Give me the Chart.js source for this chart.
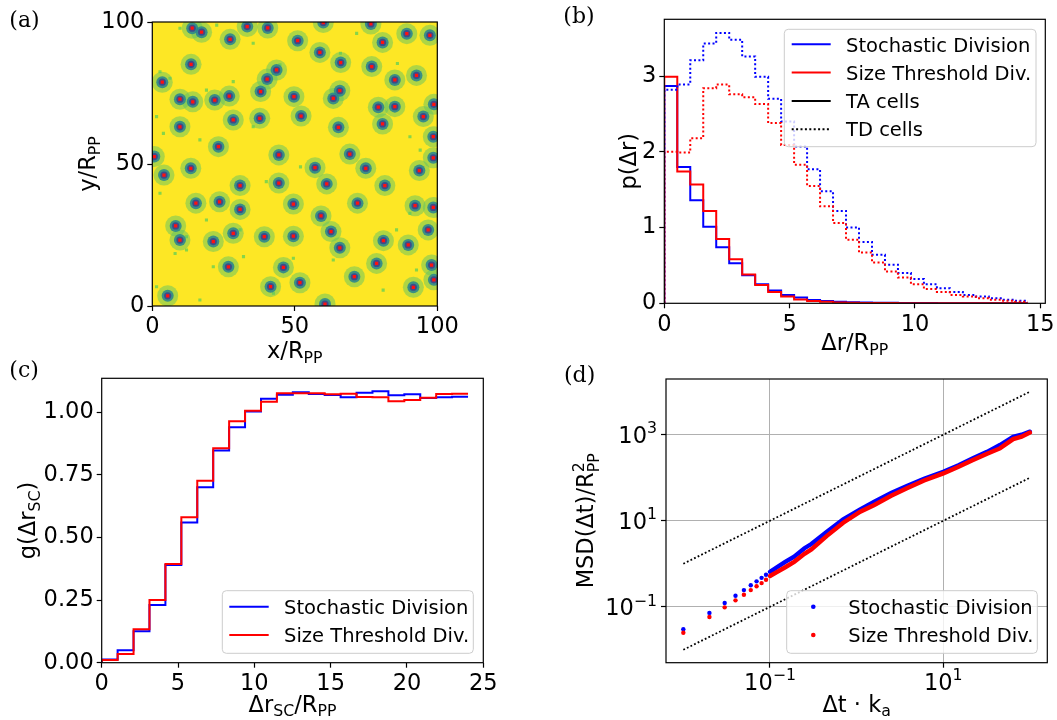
<!DOCTYPE html>
<html>
<head>
<meta charset="utf-8">
<title>cell displacement figure</title>
<script src="https://cdn.jsdelivr.net/npm/chart.js@4.4.1/dist/chart.umd.min.js"></script>
<style>
  html, body { margin: 0; padding: 0; background: #fff; }
  #fig { position: relative; width: 1057px; height: 720px; overflow: hidden; background: #fff; }
  #fig canvas { position: absolute; }
</style>
</head>
<body>
<div id="fig">
  <canvas id="chartA" width="528" height="372" style="left:0;top:0"></canvas>
  <canvas id="chartB" width="529" height="360" style="left:528px;top:0"></canvas>
  <canvas id="chartC" width="528" height="360" style="left:0;top:360px"></canvas>
  <canvas id="chartD" width="529" height="360" style="left:528px;top:360px"></canvas>
</div>
<script>
// ---------- data ----------
var seriesNames = ["Stochastic Division", "Size Threshold Div."];
var cellTypes = ["TA cells", "TD cells"];

// (a) snapshot: positions of the stem-cell clusters (red dots) and loose TD cells
var clusterCenters = [
  [14.0, 97.8], [17.3, 96.4], [27.3, 93.9], [33.3, 98.4], [40.5, 97.9], [51.0, 93.4], [58.8, 89.3],
  [60.0, 99.8], [76.7, 99.3], [89.3, 95.9], [97.4, 95.3], [80.8, 92.8], [66.1, 85.7], [77.0, 84.3],
  [85.1, 79.6], [92.7, 81.2], [13.6, 85.1], [3.5, 78.8], [9.7, 72.8], [14.2, 71.9], [21.9, 72.5],
  [27.0, 73.9], [38.0, 75.5], [40.3, 79.9], [43.6, 83.1], [49.7, 73.7], [52.2, 66.9], [63.5, 73.1],
  [65.8, 75.8], [79.3, 70.0], [85.1, 70.2], [95.1, 66.7], [98.8, 71.0], [9.7, 63.1], [28.4, 65.5],
  [37.7, 66.1], [23.2, 56.1], [44.4, 53.2], [57.1, 48.7], [65.3, 62.9], [80.8, 64.1], [69.3, 53.5],
  [74.9, 48.5], [98.6, 52.2], [98.6, 59.6], [93.7, 47.7], [0.7, 52.6], [4.1, 46.1], [13.5, 48.5],
  [30.8, 42.4], [44.4, 43.3], [61.2, 43.0], [81.6, 42.4], [15.3, 36.2], [23.6, 36.7], [30.8, 34.0],
  [49.5, 35.9], [59.2, 31.7], [72.0, 36.2], [92.2, 35.3], [98.6, 34.7], [8.2, 28.2], [28.4, 25.6],
  [39.3, 24.4], [49.5, 24.6], [62.7, 26.2], [96.8, 26.8], [9.7, 23.2], [21.4, 22.7], [65.8, 20.5],
  [81.1, 23.0], [89.8, 21.5], [26.7, 13.8], [46.0, 13.6], [78.7, 15.0], [98.0, 14.4], [41.5, 6.8],
  [51.8, 8.2], [70.9, 10.3], [91.6, 6.6], [98.8, 9.2], [5.4, 3.6], [60.6, 0.7]
];
var looseCells = [
  [9.7, 97.8], [22.6, 98.9], [35.4, 92.5], [71.7, 96], [66, 89], [86, 85.4], [2.7, 82.5], [6.2, 80.2],
  [19, 76], [28.4, 79], [44.8, 84.9], [1.5, 66.7], [3.9, 60.8], [35.4, 63.1], [16.7, 58.5], [90.4, 59.6],
  [94, 54.9], [52, 49], [56.6, 47.3], [40, 43.8], [2.7, 39.7], [19, 30.3], [30.8, 26.8], [12, 19.7],
  [8, 18.5], [32, 17.4], [21.4, 13.8], [63.5, 16.2], [85.7, 26.8], [90.4, 32.6], [92.7, 12.7],
  [49.5, 16.8], [16.7, 2.1], [42.5, 4.5], [12, 24.4], [81, 5.6], [1.5, 6.8]
];
var ticksA = [0, 50, 100];

// (b) displacement histograms, 28 bins on [0, 14.5]
var binRangeB = [0, 14.5];
var taStochastic = [2.87, 1.80, 1.36, 1.01, 0.74, 0.53, 0.37, 0.25, 0.17, 0.11, 0.075, 0.045, 0.03, 0.02,
  0.015, 0.01, 0.008, 0.006, 0.005, 0.004, 0.003, 0.002, 0.002, 0.001, 0.001, 0.001, 0.001, 0.001];
var taThreshold = [2.99, 1.74, 1.57, 1.22, 0.85, 0.58, 0.38, 0.24, 0.15, 0.09, 0.05, 0.03, 0.02, 0.012,
  0.008, 0.005, 0.004, 0.003, 0.002, 0.001, 0.001, 0.001, 0.001, 0.001, 0.001, 0.001, 0.001, 0.001];
var tdStochastic = [2.82, 2.89, 3.21, 3.43, 3.57, 3.48, 3.26, 2.99, 2.70, 2.40, 2.07, 1.77, 1.48, 1.22,
  1.00, 0.81, 0.64, 0.51, 0.40, 0.32, 0.25, 0.20, 0.15, 0.11, 0.09, 0.066, 0.048, 0.035];
var tdThreshold = [2.00, 1.99, 2.18, 2.84, 2.89, 2.76, 2.72, 2.63, 2.38, 2.09, 1.83, 1.55, 1.28, 1.06,
  0.84, 0.67, 0.54, 0.42, 0.34, 0.25, 0.19, 0.15, 0.11, 0.09, 0.066, 0.048, 0.035, 0.022];
var ticksBx = [0, 5, 10, 15];
var ticksBy = [0, 1, 2, 3];

// (c) pair correlation of stem cells, 23 bins on [0, 24]
var binRangeC = [0, 24];
var gStochastic = [0.013, 0.05, 0.126, 0.23, 0.39, 0.56, 0.70, 0.847, 0.94, 1.003, 1.053, 1.069, 1.079,
  1.072, 1.068, 1.059, 1.077, 1.083, 1.067, 1.071, 1.056, 1.059, 1.061];
var gThreshold = [0.011, 0.035, 0.133, 0.25, 0.394, 0.58, 0.726, 0.856, 0.964, 1.005, 1.041, 1.075, 1.075,
  1.075, 1.071, 1.073, 1.06, 1.059, 1.043, 1.048, 1.057, 1.072, 1.073];
var ticksCx = [0, 5, 10, 15, 20, 25];
var ticksCy = [0, 0.25, 0.5, 0.75, 1.0];

// (d) mean squared displacement
var lagSparse = [0.01, 0.02, 0.03, 0.04, 0.05, 0.06, 0.07, 0.08, 0.09];
var msdSparseStoch = [0.030, 0.072, 0.122, 0.18, 0.244, 0.316, 0.39, 0.47, 0.555];
var msdSparseThr = [0.025, 0.058, 0.097, 0.141, 0.19, 0.244, 0.30, 0.355, 0.425];
var lagDense = [0.1, 0.12, 0.15, 0.19, 0.25, 0.3, 0.45, 0.7, 1.1, 1.6, 2.5, 3.8, 6, 10, 15, 22, 32, 45, 64, 80, 100];
var msdDenseStoch = [0.65, 0.82, 1.1, 1.46, 2.3, 2.87, 5.5, 10.8, 18.4, 27.7, 44, 64, 95, 138, 195, 282, 400, 575, 895, 1000, 1175];
var msdDenseThr = [0.52, 0.64, 0.83, 1.11, 1.7, 2.16, 4.4, 9.0, 16.2, 23.2, 38, 56.6, 86, 126, 180, 257, 360, 480, 790, 900, 1120];
var guideX = [0.01, 100];
var guideUpperY = [1, 10000];
var guideLowerY = [0.01, 100];
var ticksDx = [0.1, 10];
var ticksDy = [0.1, 10, 1000];

// ---------- helpers ----------
var SANS = '"DejaVu Sans", sans-serif';
var F = 22.5;
var TICK_FONT = { family: "DejaVu Sans", size: F };

function font(size) { return size + "px " + SANS; }

function xy(xs, ys) {
  return xs.map(function (x, i) { return { x: x, y: ys[i] }; });
}
function pairs(list) {
  return list.map(function (p) { return { x: p[0], y: p[1] }; });
}
// outline of a step histogram (matplotlib histtype="step")
function stepOutline(range, heights) {
  var w = (range[1] - range[0]) / heights.length;
  var pts = [{ x: range[0], y: 0 }];
  heights.forEach(function (h, i) { pts.push({ x: range[0] + i * w, y: h }); });
  pts.push({ x: range[1], y: heights[heights.length - 1] });
  return pts;
}

function richWidth(ctx, parts) {
  var w = 0;
  parts.forEach(function (p) {
    if (p[1] === "ss") {
      ctx.font = font(F * 0.7);
      w += Math.max(ctx.measureText(p[0]).width, ctx.measureText(p[2]).width);
    } else {
      ctx.font = font(p[1] ? F * 0.7 : F);
      w += ctx.measureText(p[0]).width;
    }
  });
  return w;
}

function drawRich(ctx, parts, x, y, rotated, align) {
  ctx.save();
  ctx.translate(x, y);
  if (rotated) ctx.rotate(-Math.PI / 2);
  ctx.fillStyle = "#000";
  ctx.textAlign = "left";
  ctx.textBaseline = "alphabetic";
  var w = richWidth(ctx, parts);
  var cx = align === "right" ? -w : -w / 2;
  parts.forEach(function (p) {
    if (p[1] === "ss") {
      ctx.font = font(F * 0.7);
      ctx.fillText(p[0], cx, -F * 0.42);
      ctx.fillText(p[2], cx, F * 0.24);
      cx += Math.max(ctx.measureText(p[0]).width, ctx.measureText(p[2]).width);
      return;
    }
    ctx.font = font(p[1] ? F * 0.7 : F);
    var dy = p[1] === "sub" ? F * 0.2 : p[1] === "sup" ? -F * 0.42 : 0;
    ctx.fillText(p[0], cx, dy);
    cx += ctx.measureText(p[0]).width;
  });
  ctx.restore();
}

function drawLegend(ctx, lg) {
  ctx.save();
  ctx.beginPath();
  if (ctx.roundRect) ctx.roundRect(lg.x, lg.y, lg.w, lg.h, 4);
  else ctx.rect(lg.x, lg.y, lg.w, lg.h);
  ctx.fillStyle = "rgba(255,255,255,0.8)";
  ctx.fill();
  ctx.strokeStyle = "#cccccc";
  ctx.lineWidth = 1;
  ctx.stroke();
  ctx.font = "19.5px " + SANS;
  ctx.textBaseline = "alphabetic";
  lg.items.forEach(function (it, i) {
    var y = lg.rows[i];
    if (it.dot) {
      ctx.beginPath();
      ctx.arc(lg.markX, y, 2.3, 0, Math.PI * 2);
      ctx.fillStyle = it.color;
      ctx.fill();
    } else {
      ctx.beginPath();
      ctx.setLineDash(it.dash || []);
      ctx.moveTo(lg.lineX[0], y);
      ctx.lineTo(lg.lineX[1], y);
      ctx.strokeStyle = it.color;
      ctx.lineWidth = 2;
      ctx.stroke();
      ctx.setLineDash([]);
    }
    ctx.fillStyle = "#000";
    ctx.fillText(it.label, lg.textX, y + 7.2);
  });
  ctx.restore();
}

function panelPlugin(p) {
  return {
    id: "panel",
    beforeDraw: function (chart) {
      if (!p.background) return;
      var a = chart.chartArea, ctx = chart.ctx;
      ctx.save();
      ctx.fillStyle = p.background;
      ctx.fillRect(a.left, a.top, a.right - a.left, a.bottom - a.top);
      ctx.restore();
    },
    afterDraw: function (chart) {
      var ctx = chart.ctx, a = chart.chartArea;
      ctx.save();
      ctx.strokeStyle = "#000";
      ctx.lineWidth = 1.2;
      ctx.strokeRect(a.left, a.top, a.right - a.left, a.bottom - a.top);
      ctx.fillStyle = "#000";
      ctx.font = '22px "DejaVu Serif", serif';
      ctx.textAlign = "left";
      ctx.textBaseline = "alphabetic";
      ctx.fillText(p.label[0], p.label[1], p.label[2]);
      ctx.restore();
      drawRich(ctx, p.xTitle, (a.left + a.right) / 2, p.xTitleY, false);
      drawRich(ctx, p.yTitle, p.yTitleX, (a.top + a.bottom) / 2, true);
      if (p.logLabels) {
        p.logLabels.x.forEach(function (t) {
          drawRich(ctx, t[1], chart.scales.x.getPixelForValue(t[0]), a.bottom + 27, false);
        });
        p.logLabels.y.forEach(function (t) {
          drawRich(ctx, t[1], a.left - 9, chart.scales.y.getPixelForValue(t[0]) + 8.2, false, "right");
        });
      }
      if (p.legend) drawLegend(ctx, p.legend);
    }
  };
}

function fitX(h) {
  return function (s) { s.height = h; s.paddingLeft = s.paddingRight = s.paddingTop = s.paddingBottom = 0; };
}
function fitY(w) {
  return function (s) { s.width = w; s.paddingLeft = s.paddingRight = s.paddingTop = s.paddingBottom = 0; };
}
function useTicks(vals) {
  return function (s) { s.ticks = vals.map(function (v) { return { value: v }; }); };
}

function scale(type, min, max, vals, fit, fmt, grid) {
  return {
    type: type, min: min, max: max,
    afterBuildTicks: useTicks(vals),
    afterFit: fit,
    border: { display: false },
    grid: grid || { drawOnChartArea: false, drawTicks: true, tickLength: 5, tickWidth: 1.2, tickColor: "#000" },
    ticks: { color: "#000", font: TICK_FONT, padding: 3, maxRotation: 0, minRotation: 0, autoSkip: false, callback: fmt }
  };
}

function baseOptions(pad, xScale, yScale) {
  return {
    responsive: false, animation: false, devicePixelRatio: 1, events: [],
    layout: { padding: pad },
    plugins: { legend: { display: false }, tooltip: { enabled: false } },
    scales: { x: xScale, y: yScale }
  };
}

function intLabel(v) { return String(v); }
function blankLabel() { return ""; }

// ---------- (a) ----------
var clusterPts = pairs(clusterCenters);
new Chart(document.getElementById("chartA"), {
  type: "scatter",
  data: {
    datasets: [
      { data: clusterPts, pointRadius: 2.3, pointStyle: "rect", backgroundColor: "#ff1010", borderWidth: 0, order: 1, clip: 0 },
      { data: clusterPts, pointRadius: 3.6, backgroundColor: "#3e4a89", borderWidth: 0, order: 2, clip: 0 },
      { data: clusterPts, pointRadius: 6, backgroundColor: "rgba(38,131,143,0.85)", borderWidth: 0, order: 3, clip: 0 },
      { data: clusterPts, pointRadius: 10.5, backgroundColor: "rgba(95,195,100,0.5)", borderWidth: 0, order: 4, clip: 0 },
      { data: pairs(looseCells), pointRadius: 2.2, pointStyle: "rect", backgroundColor: "#86d549", borderWidth: 0, order: 5, clip: 0 }
    ]
  },
  options: baseOptions({ left: 0, top: 22, right: 90.7, bottom: 0 },
    scale("linear", 0, 100, ticksA, fitX(66), intLabel),
    scale("linear", 0, 100, ticksA, fitY(152.3), intLabel)),
  plugins: [panelPlugin({
    background: "#fde725",
    label: ["(a)", 9.3, 27.4],
    xTitle: [["x/R", ""], ["PP", "sub"]], xTitleY: 358,
    yTitle: [["y/R", ""], ["PP", "sub"]], yTitleX: 95
  })]
});

// ---------- (b) ----------
new Chart(document.getElementById("chartB"), {
  type: "scatter",
  data: {
    datasets: [
      { data: stepOutline(binRangeB, tdThreshold), showLine: true, stepped: "before", borderColor: "#ff0000", borderWidth: 2, borderDash: [2, 2.4], pointRadius: 0, order: 1 },
      { data: stepOutline(binRangeB, tdStochastic), showLine: true, stepped: "before", borderColor: "#0000ff", borderWidth: 2, borderDash: [2, 2.4], pointRadius: 0, order: 2 },
      { data: stepOutline(binRangeB, taThreshold), showLine: true, stepped: "before", borderColor: "#ff0000", borderWidth: 2, pointRadius: 0, order: 3 },
      { data: stepOutline(binRangeB, taStochastic), showLine: true, stepped: "before", borderColor: "#0000ff", borderWidth: 2, pointRadius: 0, order: 4 }
    ]
  },
  options: baseOptions({ left: 0, top: 19.3, right: 11.7, bottom: 0 },
    scale("linear", 0, 15.2, ticksBx, fitX(56.7), intLabel),
    scale("linear", 0, 3.75, ticksBy, fitY(136.3), intLabel)),
  plugins: [panelPlugin({
    label: ["(b)", 35.3, 22.7],
    xTitle: [["\u0394r/R", ""], ["PP", "sub"]], xTitleY: 350,
    yTitle: [["p(\u0394r)", ""]], yTitleX: 108,
    legend: {
      x: 256.3, y: 29.3, w: 251.7, h: 117.4,
      lineX: [263.7, 302.7], textX: 318, rows: [44.3, 72.6, 100.9, 129.2],
      items: [
        { label: seriesNames[0], color: "#0000ff" },
        { label: seriesNames[1], color: "#ff0000" },
        { label: cellTypes[0], color: "#000000" },
        { label: cellTypes[1], color: "#000000", dash: [2, 2.4] }
      ]
    }
  })]
});

// ---------- (c) ----------
new Chart(document.getElementById("chartC"), {
  type: "scatter",
  data: {
    datasets: [
      { data: stepOutline(binRangeC, gThreshold), showLine: true, stepped: "before", borderColor: "#ff0000", borderWidth: 2, pointRadius: 0, order: 1 },
      { data: stepOutline(binRangeC, gStochastic), showLine: true, stepped: "before", borderColor: "#0000ff", borderWidth: 2, pointRadius: 0, order: 2 }
    ]
  },
  options: baseOptions({ left: 0, top: 18.3, right: 44.7, bottom: 0 },
    scale("linear", 0, 25, ticksCx, fitX(57.3), intLabel),
    scale("linear", 0, 1.135, ticksCy, fitY(101.7), function (v) { return v.toFixed(2); })),
  plugins: [panelPlugin({
    label: ["(c)", 9.3, 17.2],
    xTitle: [["\u0394r", ""], ["SC", "sub"], ["/R", ""], ["PP", "sub"]], xTitleY: 351.5,
    yTitle: [["g(\u0394r", ""], ["SC", "sub"], [")", ""]], yTitleX: 35,
    legend: {
      x: 222.3, y: 230.7, w: 251, h: 62.6,
      lineX: [229.3, 268.7], textX: 284, rows: [246.7, 275],
      items: [
        { label: seriesNames[0], color: "#0000ff" },
        { label: seriesNames[1], color: "#ff0000" }
      ]
    }
  })]
});

// ---------- (d) ----------
var logGrid = { drawOnChartArea: true, color: "#b0b0b0", lineWidth: 1, drawTicks: true, tickLength: 5, tickWidth: 1.2, tickColor: "#000" };
new Chart(document.getElementById("chartD"), {
  type: "scatter",
  data: {
    datasets: [
      { data: xy(lagSparse, msdSparseThr), pointRadius: 2.2, backgroundColor: "#ff0000", borderWidth: 0, order: 1 },
      { data: xy(lagDense, msdDenseThr), showLine: true, borderColor: "#ff0000", borderWidth: 4.4, borderCapStyle: "round", pointRadius: 0, order: 2 },
      { data: xy(lagSparse, msdSparseStoch), pointRadius: 2.2, backgroundColor: "#0000ff", borderWidth: 0, order: 3 },
      { data: xy(lagDense, msdDenseStoch), showLine: true, borderColor: "#0000ff", borderWidth: 4.4, borderCapStyle: "round", pointRadius: 0, order: 4 },
      { data: xy(guideX, guideUpperY), showLine: true, borderColor: "#000", borderWidth: 1.8, borderDash: [1.8, 2.2], pointRadius: 0, order: 5 },
      { data: xy(guideX, guideLowerY), showLine: true, borderColor: "#000", borderWidth: 1.8, borderDash: [1.8, 2.2], pointRadius: 0, order: 6 }
    ]
  },
  options: baseOptions({ left: 0, top: 19, right: 9.7, bottom: 0 },
    scale("logarithmic", Math.pow(10, -2.2), Math.pow(10, 2.2), ticksDx, fitX(57.3), blankLabel, logGrid),
    scale("logarithmic", Math.pow(10, -2.3), Math.pow(10, 4.295), ticksDy, fitY(138), blankLabel, logGrid)),
  plugins: [panelPlugin({
    label: ["(d)", 36, 21.9],
    xTitle: [["\u0394t \u00b7 k", ""], ["a", "sub"]], xTitleY: 351.5,
    yTitle: [["MSD(\u0394t)/R", ""], ["2", "ss", "PP"]], yTitleX: 65.3,
    logLabels: {
      x: [[0.1, [["10", ""], ["\u22121", "sup"]]], [10, [["10", ""], ["1", "sup"]]]],
      y: [[0.1, [["10", ""], ["\u22121", "sup"]]], [10, [["10", ""], ["1", "sup"]]], [1000, [["10", ""], ["3", "sup"]]]]
    },
    legend: {
      x: 258.7, y: 230.7, w: 250.6, h: 62.6,
      markX: 285.3, textX: 320.3, rows: [246.7, 275],
      items: [
        { label: seriesNames[0], color: "#0000ff", dot: true },
        { label: seriesNames[1], color: "#ff0000", dot: true }
      ]
    }
  })]
});
</script>
</body>
</html>
